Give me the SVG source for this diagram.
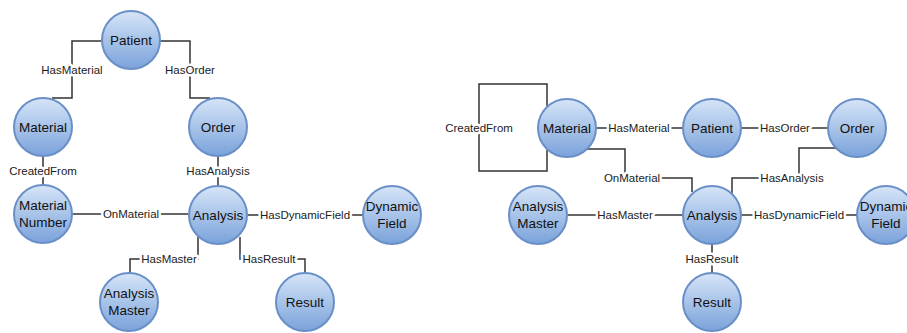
<svg xmlns="http://www.w3.org/2000/svg" width="907" height="333" viewBox="0 0 907 333">
<defs>
<linearGradient id="g" x1="0" y1="0" x2="0" y2="1">
<stop offset="0" stop-color="#d6e5f8"/>
<stop offset="1" stop-color="#7aa2da"/>
</linearGradient>
<style>
.n circle{fill:url(#g);stroke:#6a8fc7;stroke-width:2}
.n text{font-family:"Liberation Sans",Arial,sans-serif;font-size:13.5px;fill:#111;text-anchor:middle}
.c path{fill:none;stroke:#333;stroke-width:1.5}
.c text{font-family:"Liberation Sans",Arial,sans-serif;font-size:11.5px;fill:#222;text-anchor:middle;stroke:#fff;stroke-width:5;paint-order:stroke;stroke-linejoin:round}
</style>
</defs>
<rect width="907" height="333" fill="#fff"/>
<g class="c" id="connectors">
<path d="M102 41H72V98H52"/>
<text x="72" y="74">HasMaterial</text>
<path d="M160 41H190V98H210"/>
<text x="190" y="74">HasOrder</text>
<path d="M43 157V185"/>
<text x="43" y="175">CreatedFrom</text>
<path d="M218 157V186"/>
<text x="218" y="175">HasAnalysis</text>
<path d="M73 214H188"/>
<text x="131" y="218">OnMaterial</text>
<path d="M248 215H363"/>
<text x="305" y="219">HasDynamicField</text>
<path d="M198 237V259H130V273"/>
<text x="169" y="263">HasMaster</text>
<path d="M240 237V259H305V273"/>
<text x="269" y="263">HasResult</text>

<path d="M547 106V84H479V171H547V150"/>
<text x="479" y="132">CreatedFrom</text>
<path d="M597 128H683"/>
<text x="639" y="132">HasMaterial</text>
<path d="M742 128H828"/>
<text x="785" y="132">HasOrder</text>
<path d="M587 149H625V178H692V192"/>
<text x="632" y="182">OnMaterial</text>
<path d="M836 148H799V178H732V193"/>
<text x="792" y="182">HasAnalysis</text>
<path d="M568 215H683"/>
<text x="625" y="219">HasMaster</text>
<path d="M742 215H857"/>
<text x="799" y="219">HasDynamicField</text>
<path d="M712 245V273"/>
<text x="712" y="263">HasResult</text>
</g>

<g class="n" id="l-patient"><circle cx="131" cy="40" r="29"/><text x="131" y="45">Patient</text></g>
<g class="n" id="l-material"><circle cx="43" cy="127" r="29"/><text x="43" y="132">Material</text></g>
<g class="n" id="l-order"><circle cx="218" cy="127" r="29"/><text x="218" y="132">Order</text></g>
<g class="n" id="l-materialnumber"><circle cx="43" cy="214" r="29"/><text x="43" y="210">Material</text><text x="43" y="227">Number</text></g>
<g class="n" id="l-analysis"><circle cx="218" cy="215" r="29"/><text x="218" y="220">Analysis</text></g>
<g class="n" id="l-dynamicfield"><circle cx="392" cy="215" r="29"/><text x="392" y="211">Dynamic</text><text x="392" y="228">Field</text></g>
<g class="n" id="l-analysismaster"><circle cx="129" cy="302" r="29"/><text x="129" y="298">Analysis</text><text x="129" y="315">Master</text></g>
<g class="n" id="l-result"><circle cx="305" cy="302" r="29"/><text x="305" y="307">Result</text></g>

<g class="n" id="r-material"><circle cx="567" cy="128" r="29"/><text x="567" y="133">Material</text></g>
<g class="n" id="r-patient"><circle cx="712" cy="128" r="29"/><text x="712" y="133">Patient</text></g>
<g class="n" id="r-order"><circle cx="857" cy="128" r="29"/><text x="857" y="133">Order</text></g>
<g class="n" id="r-analysismaster"><circle cx="538" cy="215" r="29"/><text x="538" y="211">Analysis</text><text x="538" y="228">Master</text></g>
<g class="n" id="r-analysis"><circle cx="712" cy="215" r="29"/><text x="712" y="220">Analysis</text></g>
<g class="n" id="r-dynamicfield"><circle cx="886" cy="215" r="29"/><text x="886" y="211">Dynamic</text><text x="886" y="228">Field</text></g>
<g class="n" id="r-result"><circle cx="712" cy="302" r="29"/><text x="712" y="307">Result</text></g>
</svg>
